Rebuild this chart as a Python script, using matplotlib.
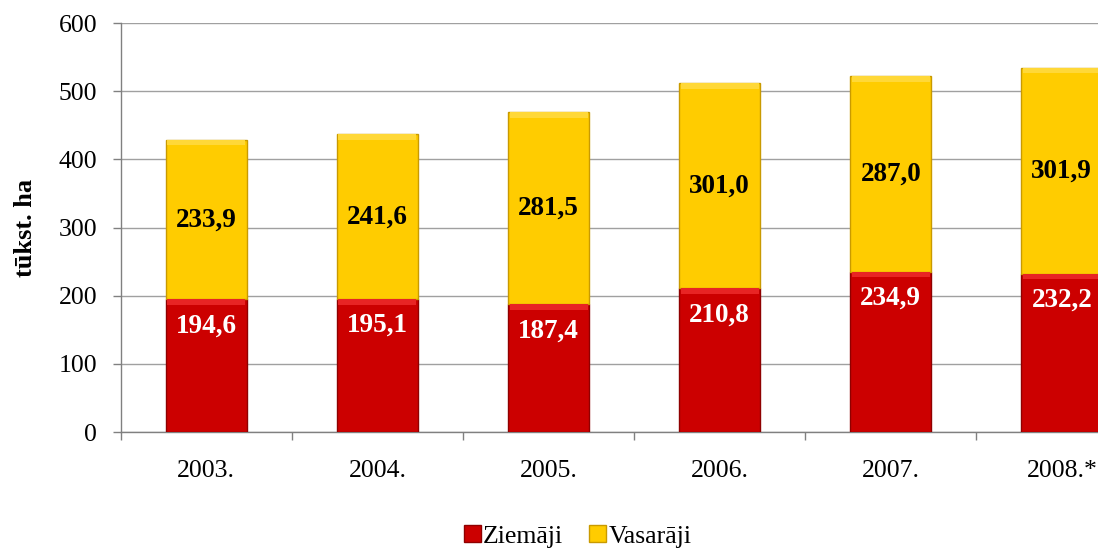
import matplotlib.pyplot as plt
import numpy as np

years = ['2003.', '2004.', '2005.', '2006.', '2007.', '2008.*']
ziemaji = [194.6, 195.1, 187.4, 210.8, 234.9, 232.2]
vasaraji = [233.9, 241.6, 281.5, 301.0, 287.0, 301.9]

plt.rcParams['font.family'] = ['Liberation Serif', 'DejaVu Serif']

red = '#CC0000'
yellow = '#FFCC00'

fig = plt.figure(figsize=(10.98, 5.49), dpi=100)
ax = fig.add_axes([0.110, 0.213, 0.935, 0.745])

x = np.arange(len(years))
w = 0.475
tops = np.array(ziemaji) + np.array(vasaraji)
b1 = ax.bar(x, ziemaji, width=w, color=red, edgecolor='#8F0000', linewidth=1,
            label='Ziemāji', zorder=3)
b2 = ax.bar(x, vasaraji, width=w, bottom=ziemaji, color=yellow, edgecolor='#C99A00',
            linewidth=1, label='Vasarāji', zorder=3)
# light bevel strip on top of each segment
strip = 8
ax.bar(x, strip, width=w * 0.96, bottom=np.array(ziemaji) - strip, color='#E82424',
       linewidth=0, zorder=4)
ax.bar(x, strip, width=w * 0.96, bottom=tops - strip, color='#FFD838',
       linewidth=0, zorder=4)

for i in range(len(years)):
    ax.annotate(f'{ziemaji[i]:.1f}'.replace('.', ','), (x[i], ziemaji[i]),
                xytext=(0, -19), textcoords='offset points', ha='center', va='center',
                color='white', fontsize=19.5, fontweight='bold', zorder=5)
    ax.text(x[i], ziemaji[i] + vasaraji[i] / 2, f'{vasaraji[i]:.1f}'.replace('.', ','),
            ha='center', va='center', color='black', fontsize=19.5, fontweight='bold', zorder=5)

ax.set_xlim(-0.5, len(years) - 0.5)
ax.set_ylim(0, 600)
ax.set_yticks(range(0, 601, 100))
ax.set_xticks(x)
ax.set_xticklabels(years)
ax.set_xticks(np.arange(-0.5, len(years), 1), minor=True)
ax.tick_params(axis='x', which='major', length=0, pad=20, labelsize=18.5)
ax.tick_params(axis='x', which='minor', length=6, color='#808080', width=1)
ax.tick_params(axis='y', length=6, color='#808080', width=1, pad=11, labelsize=18.5)

ax.grid(axis='y', color='#A0A0A0', linewidth=1, zorder=0)
for s in ['top', 'right']:
    ax.spines[s].set_visible(False)
for s in ['left', 'bottom']:
    ax.spines[s].set_color('#808080')
    ax.spines[s].set_linewidth(1)

ax.set_ylabel('tūkst. ha', fontsize=19, fontweight='bold')
ax.yaxis.set_label_coords(-0.082, 0.5)

fig.legend(handles=[b1, b2], loc='lower center', bbox_to_anchor=(0.526, -0.04), ncol=2,
           frameon=False, fontsize=18.5, handlelength=0.65, handleheight=0.65,
           handletextpad=0.1, columnspacing=1.0)

fig.savefig('out.png', dpi=100)
